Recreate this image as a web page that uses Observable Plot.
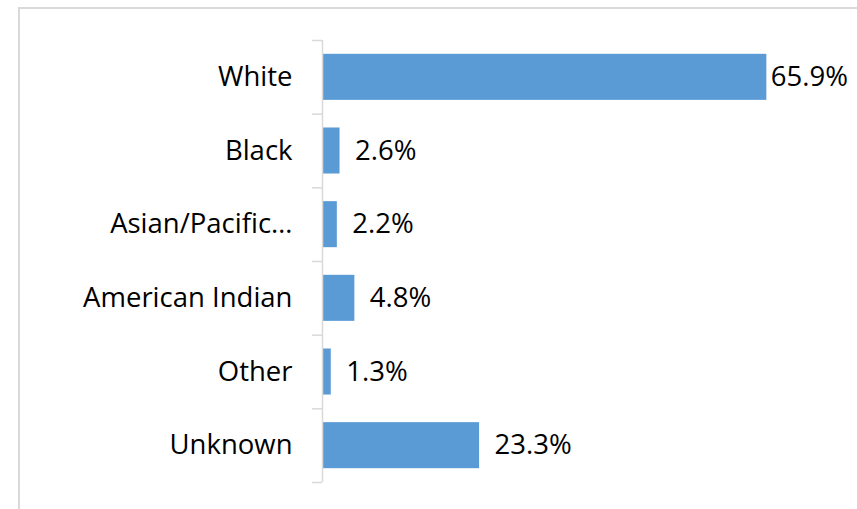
<!DOCTYPE html>
<html>
<head>
<meta charset="utf-8">
<script src="https://cdn.jsdelivr.net/npm/d3@7"></script>
<script src="https://cdn.jsdelivr.net/npm/@observablehq/plot@0.6"></script>
<style>
  html, body { margin: 0; padding: 0; background: #fff; }
  #wrap { position: relative; width: 857px; height: 509px; overflow: hidden; }
  #border { position: absolute; left: 18px; top: 7px; width: 900px; height: 600px;
            border: 2px solid #d9d9d9; box-sizing: border-box; pointer-events: none; }
  #chart { position: absolute; left: 0; top: 0; }
</style>
</head>
<body>
<div id="wrap"><div id="chart"></div><div id="border"></div></div>
<script>
const categories = ["White", "Black", "Asian/Pacific…", "American Indian", "Other", "Unknown"];
const values = [65.9, 2.6, 2.2, 4.8, 1.3, 23.3];
const valueLabels = ["65.9%", "2.6%", "2.2%", "4.8%", "1.3%", "23.3%"];

const data = categories.map((c, i) => ({category: c, value: values[i], label: valueLabels[i]}));

const W = 857, H = 509;
const mTop = 40, mBottom = 27, mLeft = 322, mRight = 63;
const step = (H - mTop - mBottom) / categories.length;
const tickLen = 10;
const xMax = 70;
const tickX = -tickLen * xMax / (W - mLeft - mRight);
const font = "'Open Sans', sans-serif";
const fs = 27.5;

const chart = Plot.plot({
  width: W,
  height: H,
  marginTop: mTop,
  marginBottom: mBottom,
  marginLeft: mLeft,
  marginRight: mRight,
  style: {fontFamily: font, background: "transparent"},
  x: {domain: [0, xMax], axis: null},
  y: {domain: categories, paddingInner: 0.375, paddingOuter: 0.1875, round: false, axis: null},
  marks: [
    Plot.barX(data, {x: "value", y: "category", fill: "#5b9bd5"}),
    Plot.ruleX([0], {stroke: "#d9d9d9", strokeWidth: 1.5}),
    Plot.ruleY(data, {y: "category", dy: -step / 2, x1: tickX, x2: 0, stroke: "#d9d9d9", strokeWidth: 1.5}),
    Plot.ruleY(data.slice(-1), {y: "category", dy: step / 2, x1: tickX, x2: 0, stroke: "#d9d9d9", strokeWidth: 1.5}),
    Plot.axisY({tickSize: 0, tickPadding: 30, fontSize: fs, fill: "#000", label: null}),
    Plot.text(data, {filter: d => d.value > 60, x: "value", y: "category", text: "label", dx: 4, textAnchor: "start", fontSize: fs, fill: "#000"}),
    Plot.text(data, {filter: d => d.value <= 60, x: "value", y: "category", text: "label", dx: 15, textAnchor: "start", fontSize: fs, fill: "#000"})
  ]
});
document.getElementById("chart").appendChild(chart);
</script>
</body>
</html>
